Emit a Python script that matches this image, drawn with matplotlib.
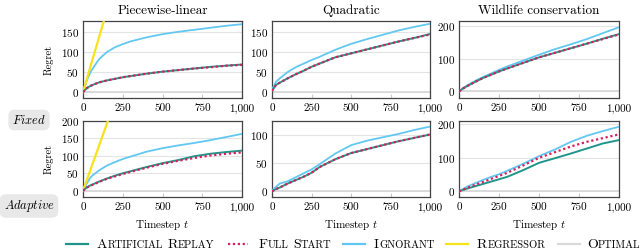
import matplotlib
matplotlib.use("Agg")
import matplotlib.pyplot as plt
from matplotlib.lines import Line2D
from matplotlib.ticker import FuncFormatter

plt.rcParams['font.family'] = 'cmr10'
plt.rcParams['mathtext.fontset'] = 'cm'
plt.rcParams['axes.formatter.use_mathtext'] = True
plt.rcParams['axes.unicode_minus'] = False

# shared timestep grid for the read-off values
timesteps = [0, 25, 50, 100, 150, 200, 250, 300, 400, 500, 600, 700, 800, 900, 1000]
regressor_steps = [0, 50, 100, 150, 200]

# Fixed row
pw_fixed_ignorant = [0, 30, 52, 82, 100, 112, 120, 127, 137, 145, 151, 156, 161, 166, 170]
pw_fixed_replay = [0, 10, 16, 24, 29, 33, 37, 40, 46, 51, 55, 59, 63, 66, 69]
pw_fixed_full = [0, 10, 16, 24, 29, 33, 37, 40, 46, 51, 55, 59, 62, 66, 68]
pw_fixed_regressor = [0, 68, 136, 204, 272]

quad_fixed_ignorant = [5, 25, 34, 50, 62, 71, 80, 88, 106, 121, 133, 144, 155, 164, 172]
quad_fixed_replay = [2, 17, 23, 34, 44, 53, 63, 71, 87, 97, 107, 117, 127, 136, 146]
quad_fixed_full = [2, 17, 23, 34, 44, 53, 63, 71, 87, 97, 107, 117, 127, 136, 145]

wild_fixed_ignorant = [0, 10, 18, 32, 44, 55, 66, 76, 94, 112, 129, 144, 160, 178, 196]
wild_fixed_replay = [0, 9, 16, 29, 41, 51, 61, 70, 87, 104, 118, 132, 146, 161, 175]
wild_fixed_full = [0, 9, 16, 29, 41, 51, 61, 70, 87, 104, 118, 132, 146, 160, 174]

# Adaptive row
pw_adapt_ignorant = [0, 22, 40, 58, 72, 82, 91, 98, 112, 122, 130, 137, 145, 154, 163]
pw_adapt_replay = [0, 10, 16, 26, 35, 43, 50, 56, 68, 79, 88, 99, 106, 111, 115]
pw_adapt_full = [0, 9, 15, 25, 34, 41, 48, 54, 66, 77, 86, 94, 101, 106, 110]
pw_adapt_regressor = [0, 64, 128, 192, 256]

quad_adapt_ignorant = [2, 8, 14, 18, 25, 32, 39, 48, 67, 82, 90, 96, 102, 109, 115]
quad_adapt_replay = [0, 4, 7, 14, 20, 26, 33, 43, 57, 68, 75, 82, 89, 95, 101]
quad_adapt_full = [0, 4, 7, 14, 20, 26, 33, 43, 57, 68, 75, 82, 89, 95, 101]

wild_adapt_ignorant = [0, 7, 14, 24, 34, 43, 51, 61, 82, 105, 125, 148, 166, 180, 193]
wild_adapt_replay = [0, 4, 8, 15, 22, 29, 36, 43, 63, 85, 99, 113, 128, 143, 153]
wild_adapt_full = [0, 5, 10, 19, 28, 37, 46, 55, 77, 100, 117, 134, 148, 159, 170]

optimal = [0] * len(timesteps)

titles = ["Piecewise-linear", "Quadratic", "Wildlife conservation"]

C_REPLAY = "#21958a"
C_FULL = "#d81e5b"
C_IGN = "#62c8f2"
C_REG = "#f7e21b"
C_OPT = "#d9d9d9"

fig = plt.figure(figsize=(6.4, 2.52), dpi=100)


def px_axes(x0, x1, y0, y1):
    # pixel box (top-left origin) -> figure axes
    return fig.add_axes([x0 / 640, (252 - y1) / 252, (x1 - x0) / 640, (y1 - y0) / 252])


lefts = [(83, 242), (272, 430), (459, 619)]
rows = [(21, 98), (121, 197)]

panels = [
    [(pw_fixed_ignorant, pw_fixed_replay, pw_fixed_full, pw_fixed_regressor, (-15, 178), [0, 50, 100, 150]),
     (quad_fixed_ignorant, quad_fixed_replay, quad_fixed_full, None, (-16, 179), [0, 50, 100, 150]),
     (wild_fixed_ignorant, wild_fixed_replay, wild_fixed_full, None, (-20, 215), [0, 100, 200])],
    [(pw_adapt_ignorant, pw_adapt_replay, pw_adapt_full, pw_adapt_regressor, (-18, 200), [0, 50, 100, 150, 200]),
     (quad_adapt_ignorant, quad_adapt_replay, quad_adapt_full, None, (-10, 125), [0, 50, 100]),
     (wild_adapt_ignorant, wild_adapt_replay, wild_adapt_full, None, (-17, 210), [0, 100, 200])],
]

for r, (y0, y1) in enumerate(rows):
    for c, (x0, x1) in enumerate(lefts):
        ign, rep, full, reg, ylim, yt = panels[r][c]
        ax = px_axes(x0, x1, y0, y1)
        ax.plot(timesteps, optimal, color=C_OPT, lw=1.3, zorder=2)
        ax.plot(timesteps, ign, color=C_IGN, lw=1.3, zorder=3)
        if reg is not None:
            ax.plot(regressor_steps, reg, color=C_REG, lw=1.6, zorder=3)
        ax.plot(timesteps, rep, color=C_REPLAY, lw=1.4, zorder=4)
        ax.plot(timesteps, full, color=C_FULL, lw=1.6, ls=(0, (1, 1.2)), zorder=5)
        ax.set_xlim(0, 1000)
        ax.set_ylim(*ylim)
        ax.set_yticks(yt)
        ax.set_xticks([0, 250, 500, 750, 1000])
        ax.xaxis.set_major_formatter(FuncFormatter(lambda v, p: f"{v:,.0f}"))
        ax.grid(axis='y', color='#e3e3e3', lw=0.8)
        ax.set_axisbelow(True)
        ax.tick_params(axis='y', length=0, labelsize=8, pad=3)
        ax.tick_params(axis='x', direction='in', length=3, color='#cccccc', labelsize=8, pad=4)
        for s in ax.spines.values():
            s.set_color('#444444')
            s.set_linewidth(0.9)
        if r == 0:
            ax.set_title(titles[c], fontsize=9.5, pad=5)
        else:
            ax.set_xlabel("Timestep $t$", fontsize=8, labelpad=4)
        if c == 0:
            ax.set_ylabel("Regret", fontsize=7.5, labelpad=5)

box = dict(boxstyle='round,pad=0.3,rounding_size=0.5', fc='#e8e8e8', ec='none')
fig.text(29 / 640, 1 - 120 / 252, r"$\mathit{Fixed}$", fontsize=9, ha='center', va='center', bbox=box)
fig.text(29 / 640, 1 - 206 / 252, r"$\mathit{Adaptive}$", fontsize=9, ha='center', va='center', bbox=box)

# legend drawn by hand to get the small-caps look
renderer = fig.canvas.get_renderer()
leg_y = 244
legend_items = [
    (C_REPLAY, '-', 66, 88, [("A", 10), ("RTIFICIAL", 7.6), (" ", 10), ("R", 10), ("EPLAY", 7.6)], 97),
    (C_FULL, (0, (1, 1.2)), 228, 248, [("F", 10), ("ULL", 7.6), (" ", 10), ("S", 10), ("TART", 7.6)], 259),
    (C_IGN, '-', 343, 365, [("I", 10), ("GNORANT", 7.6)], 374),
    (C_REG, '-', 446, 468, [("R", 10), ("EGRESSOR", 7.6)], 477),
    (C_OPT, '-', 558, 580, [("O", 10), ("PTIMAL", 7.6)], 587),
]
for color, ls, hx0, hx1, pieces, tx in legend_items:
    fig.add_artist(Line2D([hx0 / 640, hx1 / 640], [1 - leg_y / 252] * 2, transform=fig.transFigure,
                          color=color, lw=1.6, ls=ls))
    x = tx
    for txt, size in pieces:
        if txt == " ":
            x += 4
            continue
        t = fig.text(x / 640, 1 - (leg_y + 4) / 252, txt, fontsize=size, ha='left', va='baseline')
        bb = t.get_window_extent(renderer)
        x = bb.x1 + 0.2

fig.savefig("out.png", dpi=100)
